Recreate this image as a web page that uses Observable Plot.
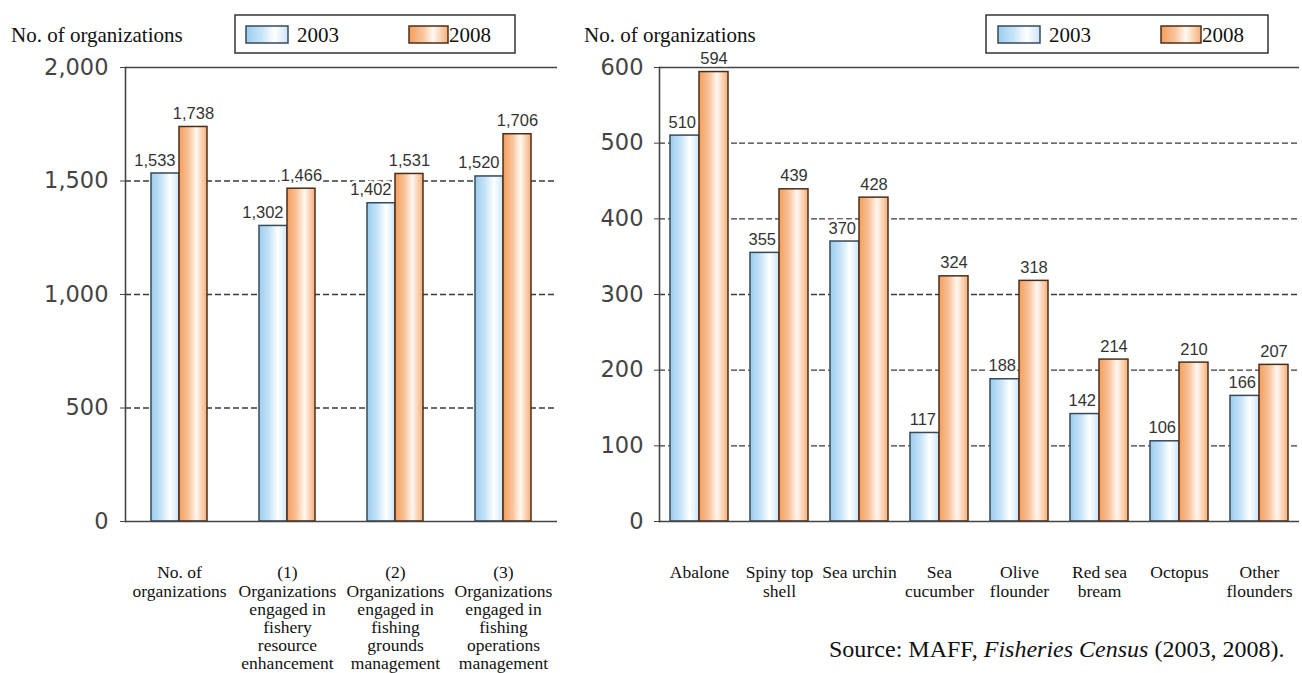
<!DOCTYPE html>
<html><head><meta charset="utf-8">
<script src="https://cdn.jsdelivr.net/npm/d3@7"></script>
<script src="https://cdn.jsdelivr.net/npm/@observablehq/plot@0.6"></script>
<style>
body{margin:0;background:#fff}
#root{position:relative;width:1302px;height:673px;overflow:hidden;background:#fff}
#left,#right,#overlay{position:absolute;top:0}
#left{left:0}
#right{left:560px}
#overlay{left:0}
</style></head><body>
<svg width="0" height="0" style="position:absolute">
  <defs>
    <linearGradient id="gBlue" x1="0" y1="0" x2="1" y2="0">
      <stop offset="0" stop-color="#9ccdef"/>
      <stop offset="0.35" stop-color="#c4e2f7"/>
      <stop offset="0.68" stop-color="#ffffff"/>
      <stop offset="1" stop-color="#cbe5f8"/>
    </linearGradient>
    <linearGradient id="gOrange" x1="0" y1="0" x2="1" y2="0">
      <stop offset="0" stop-color="#f39d5c"/>
      <stop offset="0.35" stop-color="#f8c49c"/>
      <stop offset="0.62" stop-color="#fff8f2"/>
      <stop offset="1" stop-color="#f5ae78"/>
    </linearGradient>
  </defs>
</svg>
<div id="root">
  <div id="left"></div>
  <div id="right"></div>
  <svg id="overlay" width="1302" height="673"></svg>
</div>
<script>
const years = [2003, 2008];

const leftCategories = [
  "No. of\norganizations",
  "(1)\nOrganizations\nengaged in\nfishery\nresource\nenhancement",
  "(2)\nOrganizations\nengaged in\nfishing\ngrounds\nmanagement",
  "(3)\nOrganizations\nengaged in\nfishing\noperations\nmanagement"
];
const left2003 = [1533, 1302, 1402, 1520];
const left2008 = [1738, 1466, 1531, 1706];
const leftTicks = [0, 500, 1000, 1500, 2000];

const rightCategories = [
  "Abalone", "Spiny top\nshell", "Sea urchin", "Sea\ncucumber",
  "Olive\nflounder", "Red sea\nbream", "Octopus", "Other\nflounders"
];
const right2003 = [510, 355, 370, 117, 188, 142, 106, 166];
const right2008 = [594, 439, 428, 324, 318, 214, 210, 207];
const rightTicks = [0, 100, 200, 300, 400, 500, 600];

const yLabel = "No. of organizations";
const legendLabels = ["2003", "2008"];
const fmt = d3.format(",");

function chart({cats, v03, v08, ticks, width, marginLeft, marginRight, padOuter, labelDy, labelDx, tickPadding}) {
  const rows = cats.flatMap((c, i) => [
    {cat: c, year: years[0], value: v03[i]},
    {cat: c, year: years[1], value: v08[i]}
  ]);
  const r03 = rows.filter(d => d.year === years[0]);
  const r08 = rows.filter(d => d.year === years[1]);
  const top = ticks[ticks.length - 1];
  return Plot.plot({
    width, height: 673, marginLeft, marginRight, marginTop: 67, marginBottom: 152,
    style: {fontFamily: "DejaVu Sans", background: "transparent", overflow: "visible"},
    fx: {domain: cats, padding: 0, axis: null},
    x: {domain: years, paddingInner: 0, paddingOuter: padOuter, axis: null},
    y: {domain: [0, top], axis: null},
    marks: [
      Plot.ruleY(ticks.slice(1, -1), {stroke: "#3a3a3a", strokeWidth: 1.3, strokeDasharray: "6,3"}),
      Plot.barY(r03, {fx: "cat", x: "year", y: "value", fill: "url(#gBlue)", stroke: "#34495a", strokeWidth: 1.5}),
      Plot.barY(r08, {fx: "cat", x: "year", y: "value", fill: "url(#gOrange)", stroke: "#4b2e17", strokeWidth: 1.5}),
      Plot.ruleY([0, top], {stroke: "#444", strokeWidth: 1.6}),
      Plot.frame({anchor: "left", facetAnchor: "left", stroke: "#444", strokeWidth: 1.6}),
      Plot.axisY({ticks, tickSize: 5, tickPadding, tickFormat: fmt, fontSize: 22.5, color: "#444", label: null}),
      Plot.text(r03, {fx: "cat", x: "year", y: "value", text: d => fmt(d.value), textAnchor: "end", dx: labelDx, dy: -8, lineAnchor: "bottom", fontFamily: "Liberation Sans", fontSize: 16.5, fill: "#333", stroke: "white", strokeWidth: 5, paintOrder: "stroke"}),
      Plot.text(r08, {fx: "cat", x: "year", y: "value", text: d => fmt(d.value), textAnchor: "middle", dy: -8, lineAnchor: "bottom", fontFamily: "Liberation Sans", fontSize: 16.5, fill: "#333", stroke: "white", strokeWidth: 5, paintOrder: "stroke"}),
      Plot.text(cats, {fx: d => d, text: d => d, frameAnchor: "bottom", lineAnchor: "top", dy: labelDy, fontFamily: "Liberation Serif", fontSize: 17.5, lineHeight: 1.04, fill: "#111"})
    ]
  });
}

document.getElementById("left").append(chart({
  cats: leftCategories, v03: left2003, v08: left2008, ticks: leftTicks,
  width: 560, marginLeft: 124, marginRight: 3, padOuter: 0.9, labelDy: 44, labelDx: 10, tickPadding: 12
}));
document.getElementById("right").append(chart({
  cats: rightCategories, v03: right2003, v08: right2008, ticks: rightTicks,
  width: 742, marginLeft: 97, marginRight: 1, padOuter: 0.365, labelDy: 44, labelDx: 11, tickPadding: 11
}));

// overlay: axis titles, legends, source
const ov = d3.select("#overlay");
const serif = "Liberation Serif";
function header(x, box) {
  ov.append("text").attr("x", x).attr("y", 42).attr("font-family", serif).attr("font-size", 21).attr("fill", "#111").text(yLabel);
  ov.append("rect").attr("x", box.x).attr("y", 15).attr("width", box.w).attr("height", 38)
    .attr("fill", "white").attr("stroke", "#333").attr("stroke-width", 1.5);
  const fills = ["url(#gBlue)", "url(#gOrange)"], strokes = ["#34495a", "#4b2e17"];
  box.items.forEach((it, i) => {
    ov.append("rect").attr("x", it.sx).attr("y", 26).attr("width", it.sw).attr("height", 17)
      .attr("fill", fills[i]).attr("stroke", strokes[i]).attr("stroke-width", 1.5);
    ov.append("text").attr("x", it.tx).attr("y", 42).attr("font-family", serif).attr("font-size", 21)
      .attr("fill", "#111").text(legendLabels[i]);
  });
}
header(11, {x: 235, w: 280, items: [{sx: 246, sw: 42, tx: 297}, {sx: 409, sw: 39, tx: 449}]});
header(584, {x: 986, w: 282, items: [{sx: 998, sw: 42, tx: 1049}, {sx: 1161, sw: 40, tx: 1202}]});

const src = ov.append("text").attr("x", 829).attr("y", 657).attr("font-family", serif).attr("font-size", 24).attr("fill", "#111");
src.append("tspan").text("Source: MAFF, ");
src.append("tspan").attr("font-style", "italic").text("Fisheries Census");
src.append("tspan").text(" (2003, 2008).");
</script>
</body></html>
